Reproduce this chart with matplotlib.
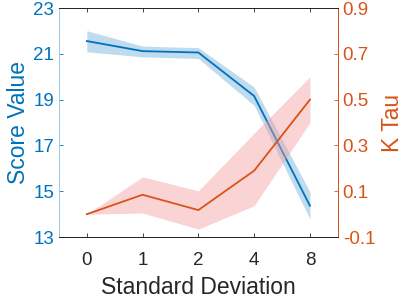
import matplotlib
matplotlib.use('Agg')
import matplotlib.pyplot as plt
import numpy as np

plt.rcParams['font.family'] = ['Liberation Sans', 'DejaVu Sans']

x_labels = ['0', '1', '2', '4', '8']

score_mean = [21.56, 21.12, 21.06, 19.16, 14.37]
score_lo = [21.09, 20.87, 20.80, 18.75, 13.79]
score_hi = [22.01, 21.34, 21.27, 19.55, 14.98]

tau_mean = [0.0, 0.085, 0.018, 0.19, 0.50]
tau_lo = [0.0, 0.005, -0.065, 0.037, 0.40]
tau_hi = [0.0, 0.163, 0.102, 0.354, 0.60]

blue = '#0072BD'
orange = '#D95319'

fig = plt.figure(figsize=(4.15, 2.99), dpi=100)
ax = fig.add_axes([0.142, 0.207, 0.672, 0.766])
ax2 = ax.twinx()

xs = np.arange(len(x_labels))

ax.fill_between(xs, score_lo, score_hi, color=blue, alpha=0.25, linewidth=0)
ax.plot(xs, score_mean, color=blue, linewidth=1.3)

ax2.fill_between(xs, tau_lo, tau_hi, color='#f4a0a0', alpha=0.45, linewidth=0)
ax2.plot(xs, tau_mean, color=orange, linewidth=1.3)

ax.set_xlim(-0.5, 4.5)
ax.set_ylim(13, 23)
ax2.set_ylim(-0.1, 0.9)
ax.set_xticks(xs)
ax.set_xticklabels(x_labels)
ax.set_yticks([13, 15, 17, 19, 21, 23])
ax2.set_yticks([-0.1, 0.1, 0.3, 0.5, 0.7, 0.9])
ax2.set_yticklabels(['-0.1', '0.1', '0.3', '0.5', '0.7', '0.9'])

ax.tick_params(axis='x', direction='in', length=3, top=True, colors='#262626',
               labelsize=13.5, width=0.6, pad=11)
ax.tick_params(axis='y', direction='in', length=3, colors=blue, labelsize=13.5, width=0.6)
ax2.tick_params(axis='y', direction='in', length=3, colors=orange, labelsize=13.5, width=0.6)

for a in (ax, ax2):
    a.spines['top'].set_color('#262626')
    a.spines['bottom'].set_color('#262626')
    a.spines['left'].set_color('#9ccae8')
    a.spines['right'].set_color(orange)
    for s in a.spines.values():
        s.set_linewidth(0.7)

ax.set_xlabel('Standard Deviation', fontsize=16.5, color='#262626', labelpad=5)
ax.set_ylabel('Score Value', fontsize=16.5, color=blue, labelpad=2)
ax2.set_ylabel('K Tau', fontsize=16.5, color=orange, labelpad=4)

fig.savefig('out.png', dpi=100)
